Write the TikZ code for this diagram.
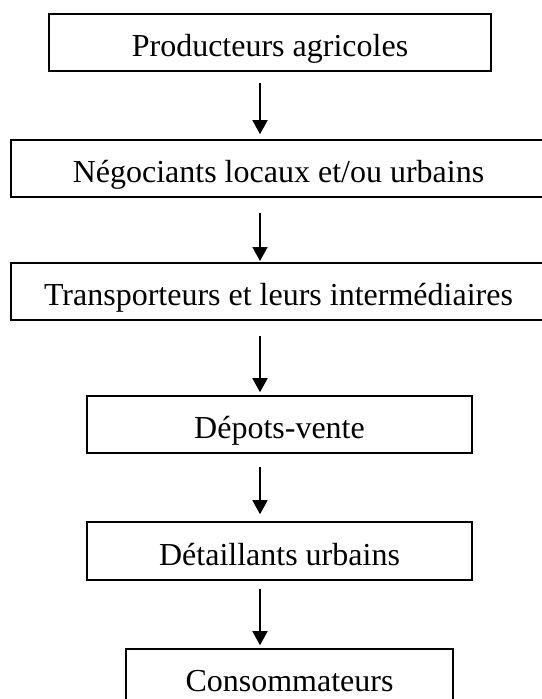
\documentclass[tikz,border=0pt]{standalone}
\usepackage{fontspec}
\setmainfont{Liberation Serif}
\usetikzlibrary{arrows.meta}
\begin{document}
\begin{tikzpicture}[x=1pt,y=-1pt,
  box/.style={draw=black,line width=1.6pt,rectangle,inner sep=0pt,
    text height=28pt,text depth=0pt,
    font=\fontsize{32}{37}\selectfont},
  arr/.style={line width=1.6pt,-{Triangle[width=15pt,length=14pt]}}]
\useasboundingbox (0,0) rectangle (541,699);
\node[box,minimum width=442pt,minimum height=57pt] (p1) at (270,42.5) {Producteurs agricoles};
\node[box,minimum width=535pt,minimum height=57pt] (p2) at (278.5,168.5) {Négociants locaux et/ou urbains};
\node[box,minimum width=535pt,minimum height=57pt] (p3) at (278.5,291.3) {Transporteurs et leurs intermédiaires};
\node[box,minimum width=385pt,minimum height=57pt] (p4) at (279.5,424.5) {Dépots-vente};
\node[box,minimum width=385pt,minimum height=58pt] (p5) at (279.5,551) {Détaillants urbains};
\node[box,minimum width=327pt,minimum height=57pt] (p6) at (289.5,677.5) {Consommateurs};
\coordinate (ax) at (260,0);
\draw[arr] ([yshift=-11pt]p1.south -| ax) -- ([yshift=5pt]p2.north -| ax);
\draw[arr] ([yshift=-15pt]p2.south -| ax) -- ([yshift=1pt]p3.north -| ax);
\draw[arr] ([yshift=-15pt]p3.south -| ax) -- ([yshift=3pt]p4.north -| ax);
\draw[arr] ([yshift=-13pt]p4.south -| ax) -- ([yshift=7pt]p5.north -| ax);
\draw[arr] ([yshift=-8pt]p5.south -| ax) -- ([yshift=3pt]p6.north -| ax);
\end{tikzpicture}
\end{document}
